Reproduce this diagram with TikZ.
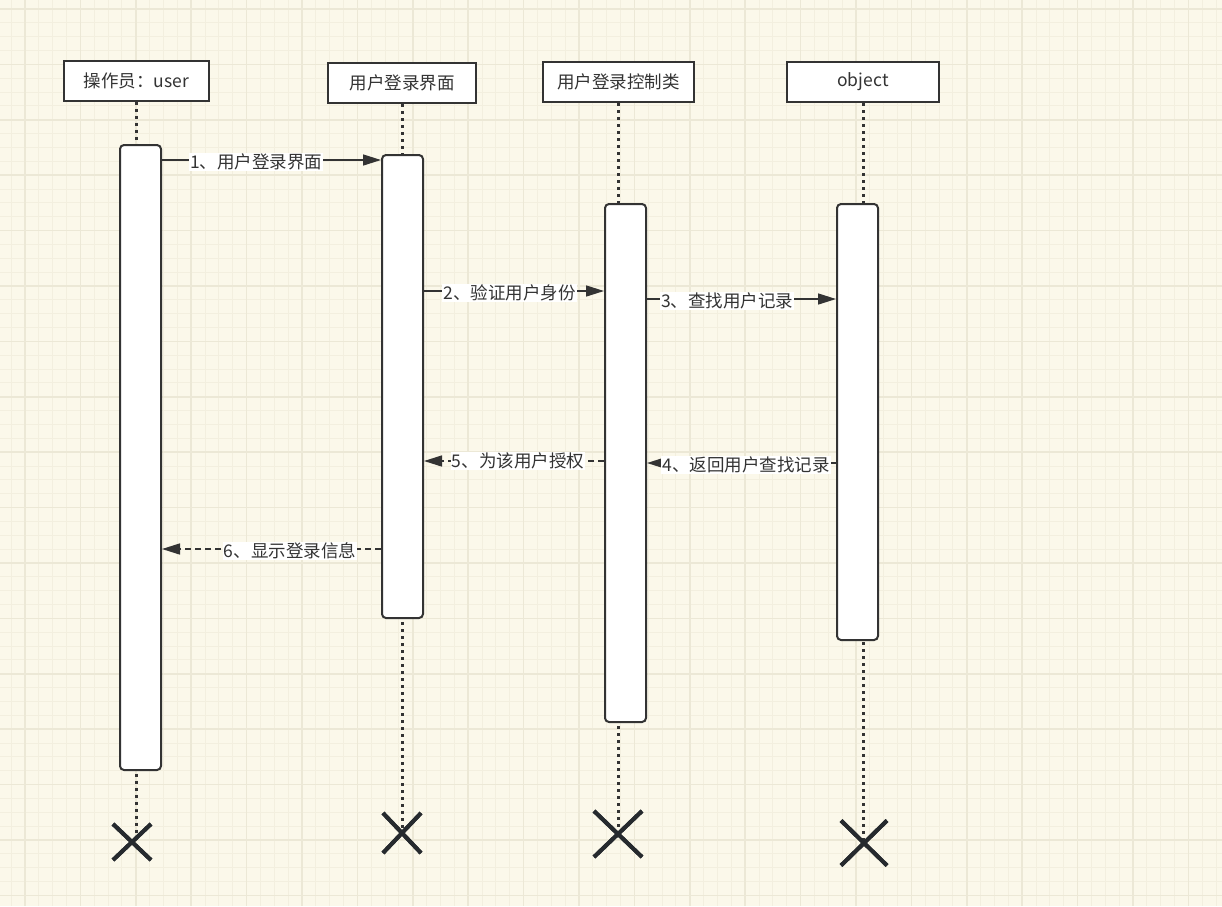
\documentclass[tikz,border=0pt]{standalone}
\usepackage{fontspec}
\setmainfont{Noto Sans CJK SC}
\usetikzlibrary{arrows.meta,shapes.misc}
\definecolor{bg}{HTML}{FBF8EA}
\definecolor{gminor}{HTML}{F3EFDF}
\definecolor{gmajor}{HTML}{ECE8D6}
\definecolor{ink}{HTML}{333333}
\definecolor{xink}{HTML}{262A2E}
\newcommand{\fsz}{\fontsize{17.5}{21}\selectfont}
\begin{document}
\begin{tikzpicture}[x=1pt,y=-1pt,
  hdr/.style={draw=ink, line width=2pt, fill=white, minimum height=40pt, inner sep=0pt, font=\fsz, text=ink},
  act/.style={draw=ink, line width=2pt, fill=white, rounded corners=4pt, minimum width=41pt, inner sep=0pt},
  life/.style={draw=ink, line width=3pt, dash pattern=on 3pt off 4pt},
  msg/.style={draw=ink, line width=1.5pt, -{Triangle[length=18pt,width=11pt]}},
  ret/.style={msg, dash pattern=on 6pt off 4pt},
  lbl/.style={fill=white, inner sep=1pt, font=\fsz, text=ink, yshift=-2pt},
  xm/.style={cross out, draw=xink, line width=4pt, inner sep=0pt}]
\fill[bg] (0,0) rectangle (1222,906);
\useasboundingbox (0,0) rectangle (1222,906);
% grid
\foreach \i in {0,...,89} \draw[gminor, line width=1pt] ({-2.7+13.85*\i},0) -- ++(0,906);
\foreach \i in {0,...,66} \draw[gminor, line width=1pt] (0,{-4.85+13.85*\i}) -- ++(1222,0);
\foreach \i in {0,...,21} \draw[gmajor, line width=1.5pt] ({25+55.4*\i},0) -- ++(0,906);
\foreach \i in {0,...,16} \draw[gmajor, line width=1.5pt] (0,{9+55.4*\i}) -- ++(1222,0);
% headers
\node[hdr, minimum width=145pt] (h1) at (136.5,80.5) {操作员：user};
\node[hdr, minimum width=148pt] (h2) at (402,83) {用户登录界面};
\node[hdr, minimum width=151pt] (h3) at (618.5,82) {用户登录控制类};
\node[hdr, minimum width=152pt] (h4) at (863,82) {object};
% destruction marks
\node[xm, minimum width=34pt, minimum height=32pt] (x1) at (132,842) {};
\node[xm, minimum width=34pt, minimum height=36pt] (x2) at (402,833) {};
\node[xm, minimum width=44pt, minimum height=42pt] (x3) at (618,834) {};
\node[xm, minimum width=42pt, minimum height=41pt] (x4) at (864,843) {};
% lifelines
\draw[life] (h1.south) -- (h1.south |- x1.center);
\draw[life] (h2.south) -- (h2.south |- x2.center);
\draw[life] (h3.south) -- (h3.south |- x3.center);
\draw[life] (h4.south) -- (h4.south |- x4.center);
% redraw marks above lifelines
\node[xm, minimum width=34pt, minimum height=32pt] at (x1) {};
\node[xm, minimum width=34pt, minimum height=36pt] at (x2) {};
\node[xm, minimum width=44pt, minimum height=42pt] at (x3) {};
\node[xm, minimum width=42pt, minimum height=41pt] at (x4) {};
% activations
\node[act, minimum height=625pt] (a1) at (140.5,457.5) {};
\node[act, minimum height=463pt] (a2) at (402.5,386.5) {};
\node[act, minimum height=518pt] (a3) at (625.5,463) {};
\node[act, minimum height=436pt] (a4) at (857.5,422) {};
% messages
\draw[msg] (a1.east |- 0,160) -- node[lbl, pos=.43] {1、用户登录界面} (a2.west |- 0,160);
\draw[msg] (a2.east |- 0,291) -- node[lbl, pos=.475] {2、验证用户身份} (a3.west |- 0,291);
\draw[msg] (a3.east |- 0,299) -- node[lbl, pos=.424] {3、查找用户记录} (a4.west |- 0,299);
\draw[ret] (a4.west |- 0,463) -- node[lbl, pos=.476] {4、返回用户查找记录} (a3.east |- 0,463);
\draw[ret] (a3.west |- 0,461) -- node[lbl, pos=.478, yshift=2pt] {5、为该用户授权} (a2.east |- 0,461);
\draw[ret] (a2.west |- 0,549) -- node[lbl, pos=.416] {6、显示登录信息} (a1.east |- 0,549);
\end{tikzpicture}
\end{document}
